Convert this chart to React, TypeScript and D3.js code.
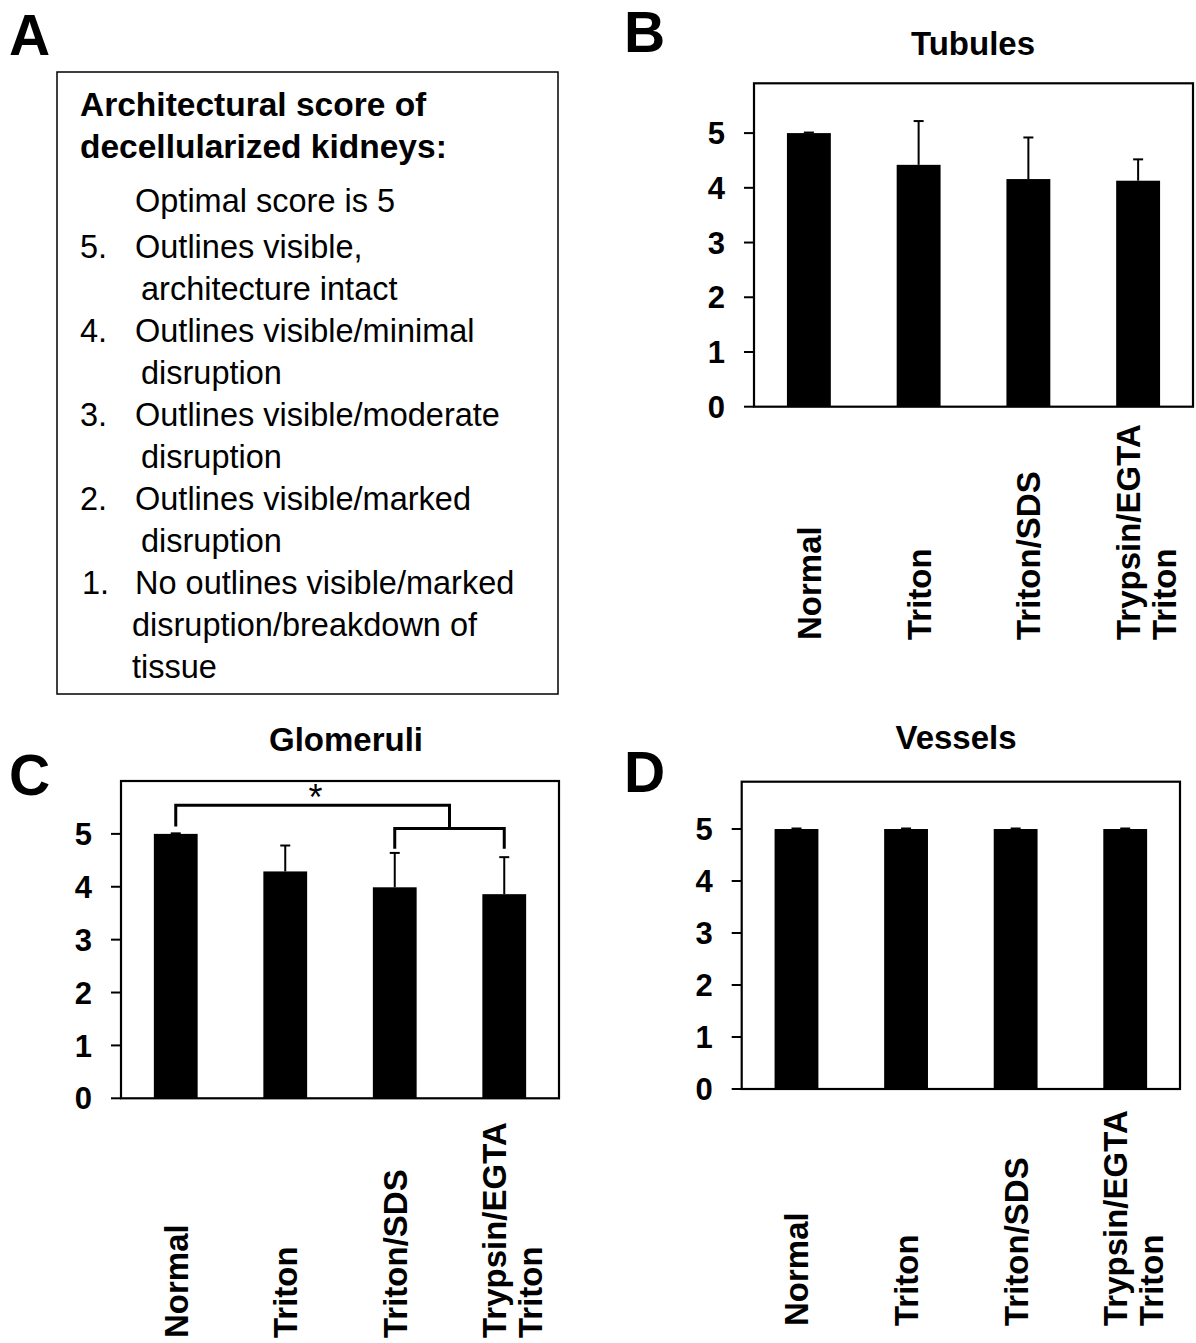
import React from "react";
import * as d3 from "d3";

const categories = ["Normal", "Triton", "Triton/SDS", "Trypsin/EGTA\nTriton"];
const tubulesMean = [5.0, 4.42, 4.16, 4.13];
const tubulesErr = [0.01, 0.8, 0.76, 0.39];
const glomeruliMean = [5.0, 4.29, 3.99, 3.86];
const glomeruliErr = [0.01, 0.49, 0.65, 0.7];
const vesselsMean = [5.0, 5.0, 5.0, 5.0];
const vesselsErr = [0.01, 0.01, 0.01, 0.01];
const yTicks = [0, 1, 2, 3, 4, 5];

const scoreTitle = ["Architectural score of", "decellularized kidneys:"];
const scoreIntro = "Optimal score is 5";
const scoreItems = [
  { num: "5.", lines: ["Outlines visible,", "architecture intact"] },
  { num: "4.", lines: ["Outlines visible/minimal", "disruption"] },
  { num: "3.", lines: ["Outlines visible/moderate", "disruption"] },
  { num: "2.", lines: ["Outlines visible/marked", "disruption"] },
  { num: "1.", lines: ["No outlines visible/marked", "disruption/breakdown of", "tissue"] },
];

const FONT = "'Liberation Sans', Arial, Helvetica, sans-serif";

type PanelProps = {
  title: string;
  titleX: number;
  titleY: number;
  x0: number;
  x1: number;
  yTop: number;
  yBottom: number;
  yMax: number;
  means: number[];
  errs: number[];
  labelBottom: number;
  children?: (x: d3.ScaleBand<string>, y: d3.ScaleLinear<number, number>) => React.ReactNode;
};

function BarPanel(p: PanelProps) {
  const x = d3
    .scaleBand<string>()
    .domain(categories)
    .range([p.x0, p.x1])
    .paddingInner(0.6)
    .paddingOuter(0.3);
  const y = d3.scaleLinear().domain([0, p.yMax]).range([p.yBottom, p.yTop]);
  const bw = x.bandwidth();
  const capW = 10;
  const fsLab = 33;
  return (
    <g>
      <text
        x={p.titleX}
        y={p.titleY}
        textAnchor="middle"
        fontFamily={FONT}
        fontWeight="bold"
        fontSize={33}
      >
        {p.title}
      </text>
      {categories.map((c, i) => {
        const cx = (x(c) as number) + bw / 2;
        const top = y(p.means[i]);
        const etop = y(p.means[i] + p.errs[i]);
        return (
          <g key={c}>
            <rect x={x(c)} y={top} width={bw} height={p.yBottom - top} fill="#000" />
            <line x1={cx} x2={cx} y1={top} y2={etop} stroke="#000" strokeWidth={2} />
            <line x1={cx - capW / 2} x2={cx + capW / 2} y1={etop} y2={etop} stroke="#000" strokeWidth={2} />
          </g>
        );
      })}
      <rect
        x={p.x0}
        y={p.yTop}
        width={p.x1 - p.x0}
        height={p.yBottom - p.yTop}
        fill="none"
        stroke="#000"
        strokeWidth={2.2}
      />
      {yTicks.map((t) => (
        <g key={t}>
          <line x1={p.x0 - 10} x2={p.x0} y1={y(t)} y2={y(t)} stroke="#000" strokeWidth={2} />
          <text
            x={p.x0 - 29}
            y={y(t)}
            dy="0.36em"
            textAnchor="end"
            fontFamily={FONT}
            fontWeight="bold"
            fontSize={31}
          >
            {t}
          </text>
        </g>
      ))}
      {categories.map((c) => {
        const cx = (x(c) as number) + bw / 2;
        const lines = c.split("\n");
        const lh = 36;
        const blockCenter = lines.length > 1 ? cx + 8 : cx;
        return lines.map((ln, j) => {
          const lineCenter = blockCenter + (j - (lines.length - 1) / 2) * lh;
          const bx = lineCenter + 0.36 * fsLab;
          return (
            <text
              key={c + j}
              transform={`translate(${bx},${p.labelBottom}) rotate(-90)`}
              textAnchor="start"
              fontFamily={FONT}
              fontWeight="bold"
              fontSize={fsLab}
            >
              {ln}
            </text>
          );
        });
      })}
      {p.children ? p.children(x, y) : null}
    </g>
  );
}

export default function App() {
  const boxFs = 32.5;
  const lineStep = 42;
  const firstItemY = 258;
  let lineIdx = 0;
  const itemEls: React.ReactNode[] = [];
  scoreItems.forEach((it, i) => {
    const isLast = i === scoreItems.length - 1;
    it.lines.forEach((ln, j) => {
      const yy = firstItemY + lineIdx * lineStep;
      if (j === 0) {
        itemEls.push(
          <text key={"n" + i} x={isLast ? 82 : 80} y={yy} fontFamily={FONT} fontSize={boxFs}>
            {it.num}
          </text>
        );
      }
      const xx = j === 0 ? 135 : isLast ? 132 : 141;
      itemEls.push(
        <text key={"l" + i + "_" + j} x={xx} y={yy} fontFamily={FONT} fontSize={boxFs}>
          {ln}
        </text>
      );
      lineIdx++;
    });
  });

  return (
    <svg
      width={1196}
      height={1343}
      style={{ position: "absolute", left: 0, top: 0, background: "#fff" }}
    >
      <rect x={0} y={0} width={1196} height={1343} fill="#fff" />
      {/* Panel letters */}
      <text x={9} y={55} fontFamily={FONT} fontWeight="bold" fontSize={57}>A</text>
      <text x={624} y={52} fontFamily={FONT} fontWeight="bold" fontSize={57}>B</text>
      <text x={9} y={795} fontFamily={FONT} fontWeight="bold" fontSize={57}>C</text>
      <text x={624} y={792} fontFamily={FONT} fontWeight="bold" fontSize={57}>D</text>

      {/* Panel A */}
      <rect x={57} y={72} width={501} height={622} fill="none" stroke="#000" strokeWidth={1.5} />
      {scoreTitle.map((t, i) => (
        <text key={t} x={80} y={116 + i * 42} fontFamily={FONT} fontWeight="bold" fontSize={33.5}>
          {t}
        </text>
      ))}
      <text x={135} y={212} fontFamily={FONT} fontSize={boxFs}>
        {scoreIntro}
      </text>
      {itemEls}

      {/* Panel B */}
      <BarPanel
        title="Tubules"
        titleX={973}
        titleY={55}
        x0={754}
        x1={1193}
        yTop={83.3}
        yBottom={406.7}
        yMax={5.91}
        means={tubulesMean}
        errs={tubulesErr}
        labelBottom={640}
      />

      {/* Panel C */}
      <BarPanel
        title="Glomeruli"
        titleX={346}
        titleY={751}
        x0={121}
        x1={559}
        yTop={781}
        yBottom={1098.3}
        yMax={6.0}
        means={glomeruliMean}
        errs={glomeruliErr}
        labelBottom={1338}
      >
        {(x, y) => {
          const bw = x.bandwidth();
          const c0 = (x(categories[0]) as number) + bw / 2;
          const c2 = (x(categories[2]) as number) + bw / 2;
          const c3 = (x(categories[3]) as number) + bw / 2;
          const mid = (c2 + c3) / 2;
          const yTopB = y(5.54);
          const yLow = y(5.1);
          const yLeftLeg = y(5.14);
          const yLowLeg = y(4.72);
          const pathTop = d3.path();
          pathTop.moveTo(c0, yLeftLeg);
          pathTop.lineTo(c0, yTopB);
          pathTop.lineTo(mid, yTopB);
          pathTop.lineTo(mid, yLow);
          const pathLow = d3.path();
          pathLow.moveTo(c2, yLowLeg);
          pathLow.lineTo(c2, yLow);
          pathLow.lineTo(c3, yLow);
          pathLow.lineTo(c3, yLowLeg);
          return (
            <g>
              <path d={pathTop.toString()} fill="none" stroke="#000" strokeWidth={3} />
              <path d={pathLow.toString()} fill="none" stroke="#000" strokeWidth={3} />
              <text
                x={(c0 + mid) / 2 + 3}
                y={yTopB + 5}
                textAnchor="middle"
                fontFamily={FONT}
                fontSize={36}
              >
                *
              </text>
            </g>
          );
        }}
      </BarPanel>

      {/* Panel D */}
      <BarPanel
        title="Vessels"
        titleX={956}
        titleY={749}
        x0={741.7}
        x1={1180}
        yTop={781.7}
        yBottom={1089}
        yMax={5.91}
        means={vesselsMean}
        errs={vesselsErr}
        labelBottom={1326}
      />
    </svg>
  );
}
